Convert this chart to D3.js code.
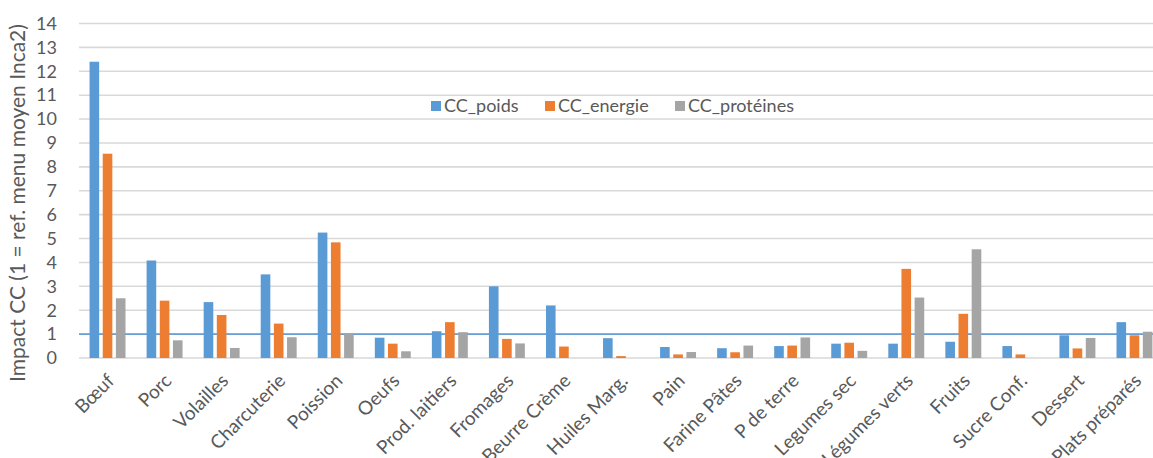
<!DOCTYPE html>
<html>
<head>
<meta charset="utf-8">
<script src="https://cdn.jsdelivr.net/npm/d3@7"></script>
<style>
  html, body { margin: 0; padding: 0; background: #fff; }
  svg { display: block; font-family: Lato, "Open Sans", sans-serif; }
</style>
</head>
<body>
<svg id="chart" width="1153" height="458"></svg>
<script>
// Food categories along the x axis
const categories = ["Bœuf", "Porc", "Volailles", "Charcuterie", "Poission", "Oeufs",
  "Prod. laitiers", "Fromages", "Beurre Crème", "Huiles Marg.", "Pain", "Farine Pâtes",
  "P de terre", "Legumes sec", "Légumes verts", "Fruits", "Sucre Conf.", "Dessert", "Plats préparés"];

// Series names and values (impact relative to the reference menu = 1)
const seriesNames = ["CC_poids", "CC_energie", "CC_protéines"];
const ccPoids     = [12.4, 4.08, 2.34, 3.5, 5.25, 0.85, 1.12, 3.0, 2.2, 0.83, 0.46, 0.41, 0.5, 0.6, 0.6, 0.68, 0.5, 0.95, 1.5];
const ccEnergie   = [8.55, 2.4, 1.8, 1.44, 4.84, 0.6, 1.5, 0.8, 0.48, 0.08, 0.15, 0.24, 0.52, 0.64, 3.73, 1.85, 0.15, 0.4, 0.95];
const ccProteines = [2.5, 0.74, 0.42, 0.87, 1.04, 0.28, 1.08, 0.61, 0, 0, 0.25, 0.52, 0.86, 0.3, 2.53, 4.55, 0, 0.84, 1.1];
const yTicks = [0, 1, 2, 3, 4, 5, 6, 7, 8, 9, 10, 11, 12, 13, 14];
const referenceLevel = 1;

const colors = ["#5B9BD5", "#ED7D31", "#A5A5A5"];
const seriesValues = [ccPoids, ccEnergie, ccProteines];

const svg = d3.select("#chart");
const plot = { left: 79, right: 1163, top: 23.5, bottom: 358 };

const x0 = d3.scaleBand().domain(categories).range([plot.left, plot.right]).paddingInner(0.37).paddingOuter(0.185);
const x1 = d3.scaleBand().domain(seriesNames).range([0, x0.bandwidth()]).paddingInner(0.27);
const y = d3.scaleLinear().domain([0, 14]).range([plot.bottom, plot.top]);
const color = d3.scaleOrdinal().domain(seriesNames).range(colors);

// Horizontal gridlines
svg.append("g").selectAll("line").data(yTicks).join("line")
  .attr("x1", plot.left).attr("x2", 1153)
  .attr("y1", d => y(d)).attr("y2", d => y(d))
  .attr("stroke", "#d9d9d9").attr("stroke-width", 1.6);

// Reference line at 1
svg.append("line")
  .attr("x1", plot.left).attr("x2", 1153)
  .attr("y1", y(referenceLevel)).attr("y2", y(referenceLevel))
  .attr("stroke", "#6a9fd6").attr("stroke-width", 1.8);

// Y tick labels
svg.append("g").selectAll("text").data(yTicks).join("text")
  .attr("x", 57).attr("y", d => y(d)).attr("dy", "0.35em")
  .attr("text-anchor", "end").attr("font-size", 18).attr("fill", "#595959")
  .text(d => d);

// Y axis title
svg.append("text")
  .attr("transform", `translate(25,203) rotate(-90)`)
  .attr("text-anchor", "middle").attr("font-size", 21).attr("fill", "#595959")
  .text("Impact  CC (1 = ref. menu moyen Inca2)");

// Bars
const rows = categories.map((c, i) => ({ cat: c, vals: seriesNames.map((s, k) => ({ s, v: seriesValues[k][i] })) }));
svg.append("g").selectAll("g").data(rows).join("g")
  .attr("transform", d => `translate(${x0(d.cat)},0)`)
  .selectAll("rect").data(d => d.vals).join("rect")
  .attr("x", d => x1(d.s)).attr("width", x1.bandwidth())
  .attr("y", d => y(d.v)).attr("height", d => y(0) - y(d.v))
  .attr("fill", d => color(d.s));

// Category labels, rotated
svg.append("g").selectAll("text").data(categories).join("text")
  .attr("transform", d => `translate(${x0(d) + x0.bandwidth() / 2 + 8},${plot.bottom + 24}) rotate(-45)`)
  .attr("text-anchor", "end").attr("font-size", 19).attr("fill", "#595959")
  .text(d => d);

// Legend
const legendX = [431, 545, 675];
const legend = svg.append("g").selectAll("g").data(seriesNames).join("g")
  .attr("transform", (d, i) => `translate(${legendX[i]},106)`);
legend.append("rect").attr("x", 0).attr("y", -5).attr("width", 10).attr("height", 10).attr("fill", d => color(d));
legend.append("text").attr("x", 13).attr("dy", "0.35em").attr("font-size", 18).attr("fill", "#595959").text(d => d);
</script>
</body>
</html>
